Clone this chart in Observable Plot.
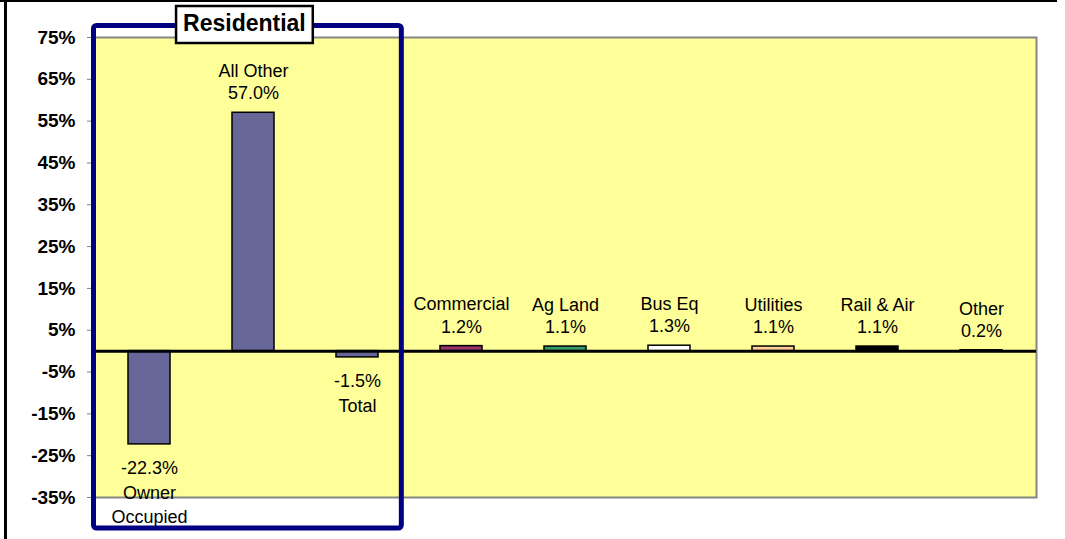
<!DOCTYPE html>
<html>
<head>
<meta charset="utf-8">
<script src="https://cdn.jsdelivr.net/npm/d3@7"></script>
<script src="https://cdn.jsdelivr.net/npm/@observablehq/plot@0.6"></script>
<style>
  body { margin: 0; background: #fff; }
  #wrap { position: relative; width: 1065px; height: 539px; overflow: hidden;
          font-family: "Liberation Sans", Arial, sans-serif; }
  #wrap svg { display: block; }
  .edge-top { position: absolute; left: 0; top: 0; width: 1057px; height: 2px; background: #000; }
  .edge-left { position: absolute; left: 4px; top: 0; width: 3px; height: 539px; background: #000; }
</style>
</head>
<body>
<div id="wrap"><div class="edge-top"></div><div class="edge-left"></div></div>
<script>
// Percent change by property class
const categories = ["Owner Occupied", "All Other", "Total", "Commercial", "Ag Land", "Bus Eq", "Utilities", "Rail & Air", "Other"];
const values = [-22.3, 57.0, -1.5, 1.2, 1.1, 1.3, 1.1, 1.1, 0.2];
const labelNames = ["Owner\nOccupied", "All Other", "Total", "Commercial", "Ag Land", "Bus Eq", "Utilities", "Rail & Air", "Other"];
const barColors = ["#666699", "#666699", "#666699", "#993366", "#339966", "#ffffff", "#ffcc99", "#000000", "#000000"];
const yTicks = [75, 65, 55, 45, 35, 25, 15, 5, -5, -15, -25, -35];
const groupTitle = "Residential";
const groupMembers = ["Owner Occupied", "All Other", "Total"];

const fmt = v => v.toFixed(1) + "%";
const rows = categories.map((c, i) => ({
  category: c,
  value: values[i],
  color: barColors[i],
  text: values[i] >= 0 ? labelNames[i] + "\n" + fmt(values[i]) : fmt(values[i]) + "\n" + labelNames[i]
}));

const W = 1065, H = 539;
const chart = Plot.plot({
  width: W, height: H,
  marginTop: 37, marginBottom: 42, marginLeft: 93, marginRight: 29,
  style: { fontFamily: "'Liberation Sans', Arial, sans-serif", background: "transparent", overflow: "visible" },
  x: { domain: categories, paddingInner: 0.6, paddingOuter: 0.3, axis: null },
  y: { domain: [-35, 75], label: null },
  color: { type: "identity" },
  marks: [
    Plot.frame({ fill: "#ffff99", stroke: "#858585", strokeWidth: 2 }),
    Plot.axisY(yTicks, {
      label: null, tickSize: 6, tickPadding: 12, stroke: "#808080", fill: "#000",
      fontWeight: "bold", fontSize: 19, tickFormat: d => d + "%"
    }),
    Plot.barY(rows, { x: "category", y: "value", fill: "color", stroke: "#000", strokeWidth: 1.5 }),
    Plot.ruleY([0], { stroke: "#000", strokeWidth: 3 }),
    Plot.text(rows.filter(d => d.value >= 0), {
      x: "category", y: "value", text: "text", lineAnchor: "bottom", dy: -13.5,
      fontSize: 18, lineHeight: 1.23, fill: "#000"
    }),
    Plot.text(rows.filter(d => d.value < 0), {
      x: "category", y: "value", text: "text", lineAnchor: "top", dy: 12,
      fontSize: 18, lineHeight: 1.37, fill: "#000"
    })
  ]
});
document.getElementById("wrap").prepend(chart);

// Group box around the residential classes, positioned from the plot's own scales
{
  const sx = chart.scale("x"), sy = chart.scale("y");
  const xb = d3.scaleBand(sx.domain, sx.range)
    .paddingInner(sx.paddingInner).paddingOuter(sx.paddingOuter).align(sx.align ?? 0.5);
  const ys = d3.scaleLinear(sy.domain, sy.range);
  const gap = xb.step() - xb.bandwidth();
  const boxLeft = xb(groupMembers[0]) - gap / 2 + 0.5;
  const boxRight = xb(groupMembers[groupMembers.length - 1]) + xb.bandwidth() + gap / 2 - 6;
  const boxTop = ys(d3.max(sy.domain)) - 11.5;
  const boxBottom = ys(d3.min(sy.domain)) + 31;

  const g = d3.select(chart).append("g");
  g.append("rect")
    .attr("x", boxLeft).attr("y", boxTop)
    .attr("width", boxRight - boxLeft).attr("height", boxBottom - boxTop)
    .attr("rx", 3).attr("fill", "none").attr("stroke", "#000080").attr("stroke-width", 5);

  const cx = (boxLeft + boxRight) / 2 - 3;
  const title = g.append("text")
    .attr("x", cx).attr("y", 31).attr("text-anchor", "middle")
    .attr("font-size", 23).attr("font-weight", "bold").attr("fill", "#000")
    .text(groupTitle);
  const tw = title.node().getBBox().width;
  g.insert("rect", "text")
    .attr("x", cx - tw / 2 - 7).attr("y", 6).attr("width", tw + 14).attr("height", 37)
    .attr("fill", "#fff").attr("stroke", "#000").attr("stroke-width", 2.5);
}
</script>
</body>
</html>
